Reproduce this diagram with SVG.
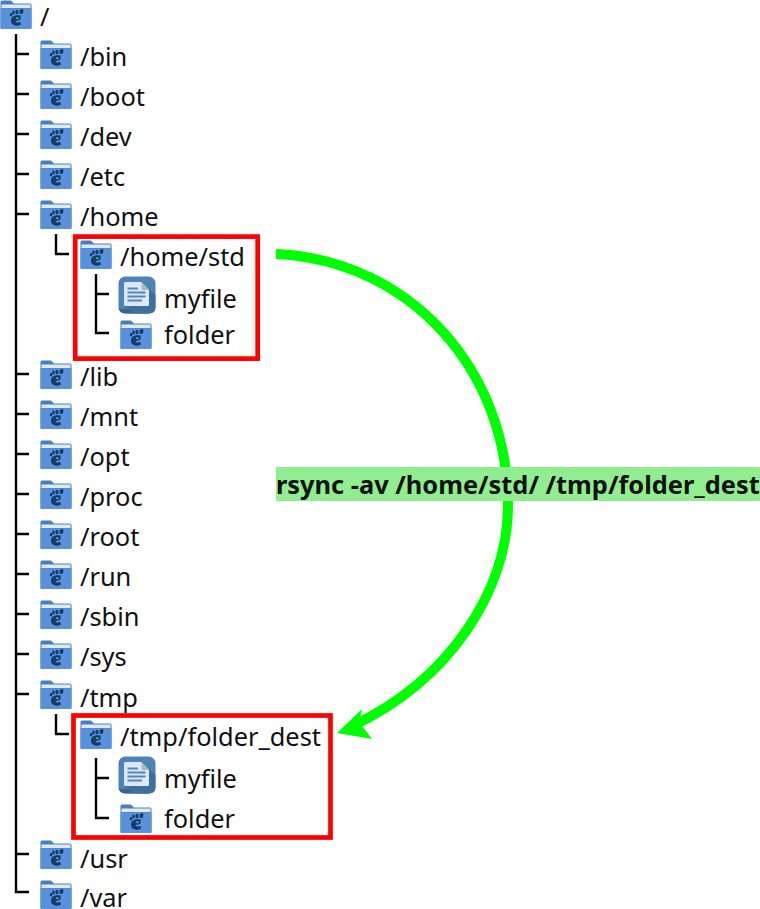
<svg xmlns="http://www.w3.org/2000/svg" width="760" height="909" viewBox="0 0 760 909">
<style>
text{font-family:"Noto Sans","Open Sans",sans-serif;font-size:25.4px;fill:#111}
.tree{fill:none;stroke:#000;stroke-width:2.4}
.box{fill:none;stroke:#f00;stroke-width:4.700}
</style>
<defs>
<symbol id="folder" viewBox="0 0 32 30" width="32" height="30">
<path d="M0.500 2Q0.500 0.500 2 0.500H11L14 3.500H30Q31.500 3.500 31.500 5V27.500Q31.500 29 30 29H2Q0.500 29 0.500 27.500Z" fill="#4a7fbe"/>
<rect x="1.500" y="4.500" width="29" height="3.500" fill="#dfe9f5"/>
<path d="M0.500 8.500H31.500V27.500Q31.500 29 30 29H2Q0.500 29 0.500 27.500Z" fill="#5892dc"/>
<g fill="#123a63">
<path d="M11 20.500C11 16 16 14.500 20.500 15.500L20.500 19.500C19 20.500 17 20.800 15.500 20.800C15.500 22.800 17.500 23 20.500 22L21 24.500C16.500 27 11 25.500 11 20.500Z"/>
<ellipse cx="11" cy="14.800" rx="1.300" ry="1.700"/><ellipse cx="13.500" cy="12.500" rx="1.300" ry="2"/><ellipse cx="17" cy="12" rx="1.500" ry="2.200"/><ellipse cx="21.500" cy="11.500" rx="1.900" ry="2.600" transform="rotate(20 21.500 11.500)"/>
</g>
<ellipse cx="17.300" cy="18.300" rx="1.800" ry="1" fill="#5892dc"/>
</symbol>
<symbol id="file" viewBox="0 0 38 38" width="38" height="38">
<rect x="0.500" y="0.500" width="37" height="37" rx="7" fill="#4f83b6"/>
<path d="M0.500 31V30.500Q0.500 37.500 7.500 37.500H30.500Q37.500 37.500 37.500 30.500V31Q37.500 33 32 33H6Q0.500 33 0.500 31Z" fill="#3b648f"/>
<path d="M22 6L37.500 19V30.500Q37.500 37.500 30.500 37.500H18L6 30Z" fill="#416f9d"/>
<path d="M7.500 6H23.500L31 14V28.500Q31 30 29.500 30H7.500Q6 30 6 28.500V7.500Q6 6 7.500 6Z" fill="#dfe8f2"/>
<path d="M23.500 6L31 14H23.500Z" fill="#aab6c3"/>
<path d="M9.500 12.500H20M9.500 16.500H27.500M9.500 20.500H27.500M9.500 24.500H24" stroke="#4f88c0" stroke-width="2" fill="none"/>
</symbol>
</defs>
<g id="connectors">
<path class="tree" d="M16 34V892H29M16 54H29M16 94H29M16 134H29M16 174H29M16 214H29M16 374H29M16 414H29M16 454H29M16 494H29M16 534H29M16 574H29M16 614H29M16 654H29M16 694H29M16 854H29"/>
<path class="tree" d="M56 234V254H69M56 714V734H69"/>
<path class="tree" d="M96 274V333H109M96 294H109M96 758V818H109M96 778H109"/>
<path d="M276 254C410 260 508 370 508 505C508 590 450 680 352 726" fill="none" stroke="#0f0" stroke-width="10"/>
<path d="M337 733L362 709L359 722L372 739Z" fill="#0f0"/>
</g>
<rect class="box" x="75.200" y="236.600" width="182.500" height="122"/>
<rect class="box" x="73.500" y="715.500" width="257" height="122"/>
<g id="rsync-label"><rect x="276" y="467" width="484" height="34" fill="#90ee90"/><text x="276" y="494" style="font-weight:700">rsync -av /home/std/ /tmp/folder_dest</text></g>
<g id="n-root"><use href="#folder" x="0" y="0"/><text x="40" y="26">/</text></g>
<g id="n-bin"><use href="#folder" x="40" y="40"/><text x="80" y="66">/bin</text></g>
<g id="n-boot"><use href="#folder" x="40" y="80"/><text x="80" y="106">/boot</text></g>
<g id="n-dev"><use href="#folder" x="40" y="120"/><text x="80" y="146">/dev</text></g>
<g id="n-etc"><use href="#folder" x="40" y="160"/><text x="80" y="186">/etc</text></g>
<g id="n-home"><use href="#folder" x="40" y="200"/><text x="80" y="226">/home</text></g>
<g id="n-home-std"><use href="#folder" x="80" y="240"/><text x="120" y="266">/home/std</text></g>
<g id="n-home-myfile"><use href="#file" x="118" y="276"/><text x="164" y="308">myfile</text></g>
<g id="n-home-folder"><use href="#folder" x="120" y="320"/><text x="164" y="344">folder</text></g>
<g id="n-lib"><use href="#folder" x="40" y="360"/><text x="80" y="386">/lib</text></g>
<g id="n-mnt"><use href="#folder" x="40" y="400"/><text x="80" y="426">/mnt</text></g>
<g id="n-opt"><use href="#folder" x="40" y="440"/><text x="80" y="466">/opt</text></g>
<g id="n-proc"><use href="#folder" x="40" y="480"/><text x="80" y="506">/proc</text></g>
<g id="n-rootdir"><use href="#folder" x="40" y="520"/><text x="80" y="546">/root</text></g>
<g id="n-run"><use href="#folder" x="40" y="560"/><text x="80" y="586">/run</text></g>
<g id="n-sbin"><use href="#folder" x="40" y="600"/><text x="80" y="626">/sbin</text></g>
<g id="n-sys"><use href="#folder" x="40" y="640"/><text x="80" y="666">/sys</text></g>
<g id="n-tmp"><use href="#folder" x="40" y="680"/><text x="80" y="707">/tmp</text></g>
<g id="n-tmp-dest"><use href="#folder" x="80" y="720"/><text x="120" y="746">/tmp/folder_dest</text></g>
<g id="n-tmp-myfile"><use href="#file" x="118" y="756"/><text x="164" y="788">myfile</text></g>
<g id="n-tmp-folder"><use href="#folder" x="120" y="804"/><text x="164" y="828">folder</text></g>
<g id="n-usr"><use href="#folder" x="40" y="840"/><text x="80" y="868">/usr</text></g>
<g id="n-var"><use href="#folder" x="40" y="880"/><text x="80" y="907">/var</text></g>
</svg>
